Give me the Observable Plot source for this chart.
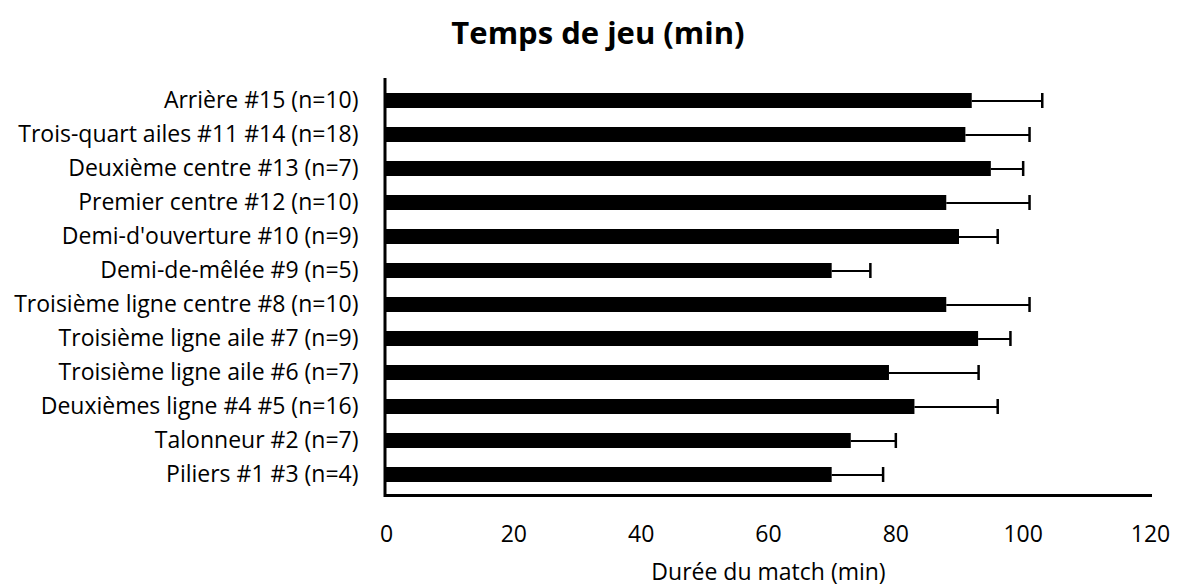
<!DOCTYPE html>
<html>
<head>
<meta charset="utf-8">
<script src="https://cdn.jsdelivr.net/npm/d3@7"></script>
<script src="https://cdn.jsdelivr.net/npm/@observablehq/plot@0.6"></script>
<style>
  html, body { margin: 0; padding: 0; background: #fff; }
  #title { width: 1180px; height: 60px; box-sizing: border-box; padding-left: 16px; padding-top: 12px;
           text-align: center; font-family: "Open Sans", sans-serif; font-weight: bold; font-size: 31px; color: #000; line-height: 40px; }
  #chart svg { display: block; }
</style>
</head>
<body>
<div id="title">Temps de jeu (min)</div>
<div id="chart"></div>
<script>
const positions = [
  "Arrière #15 (n=10)",
  "Trois-quart ailes #11 #14 (n=18)",
  "Deuxième centre #13 (n=7)",
  "Premier centre #12 (n=10)",
  "Demi-d'ouverture #10 (n=9)",
  "Demi-de-mêlée #9 (n=5)",
  "Troisième ligne centre #8 (n=10)",
  "Troisième ligne aile #7 (n=9)",
  "Troisième ligne aile #6 (n=7)",
  "Deuxièmes ligne #4 #5 (n=16)",
  "Talonneur #2 (n=7)",
  "Piliers #1 #3 (n=4)"
];
const means = [92, 91, 95, 88, 90, 70, 88, 93, 79, 83, 73, 70];
const sds   = [11, 10, 5, 13, 6, 6, 13, 5, 14, 13, 7, 8];
const xTicks = [0, 20, 40, 60, 80, 100, 120];
const xLabel = "Durée du match (min)";

const data = positions.map((p, i) => ({position: p, mean: means[i], sd: sds[i], hi: means[i] + sds[i]}));

const chart = Plot.plot({
  width: 1180,
  height: 525,
  marginTop: 19,
  marginBottom: 90,
  marginLeft: 386,
  marginRight: 30,
  style: {fontFamily: "'Open Sans', sans-serif", fontSize: "23px", color: "#000", background: "#fff"},
  x: {domain: [0, 120]},
  y: {domain: positions, paddingInner: 0.57, paddingOuter: 0.28},
  marks: [
    Plot.axisY({tickSize: 0, tickPadding: 28, label: null, fontSize: 23}),
    Plot.axisX({ticks: xTicks, tickSize: 0, tickPadding: 30, fontSize: 23, label: xLabel,
                labelAnchor: "center", labelArrow: "none", labelOffset: 84}),
    Plot.barX(data, {x: "mean", y: "position", fill: "#000"}),
    Plot.ruleY(data, {x1: "mean", x2: "hi", y: "position", stroke: "#000", strokeWidth: 2}),
    Plot.tickX(data, {x: "hi", y: "position", stroke: "#000", strokeWidth: 2.5}),
    Plot.frame({anchor: "left", stroke: "#000", strokeWidth: 3, dx: -1.5}),
    Plot.frame({anchor: "bottom", stroke: "#000", strokeWidth: 3})
  ]
});
document.getElementById("chart").appendChild(chart);
</script>
</body>
</html>
